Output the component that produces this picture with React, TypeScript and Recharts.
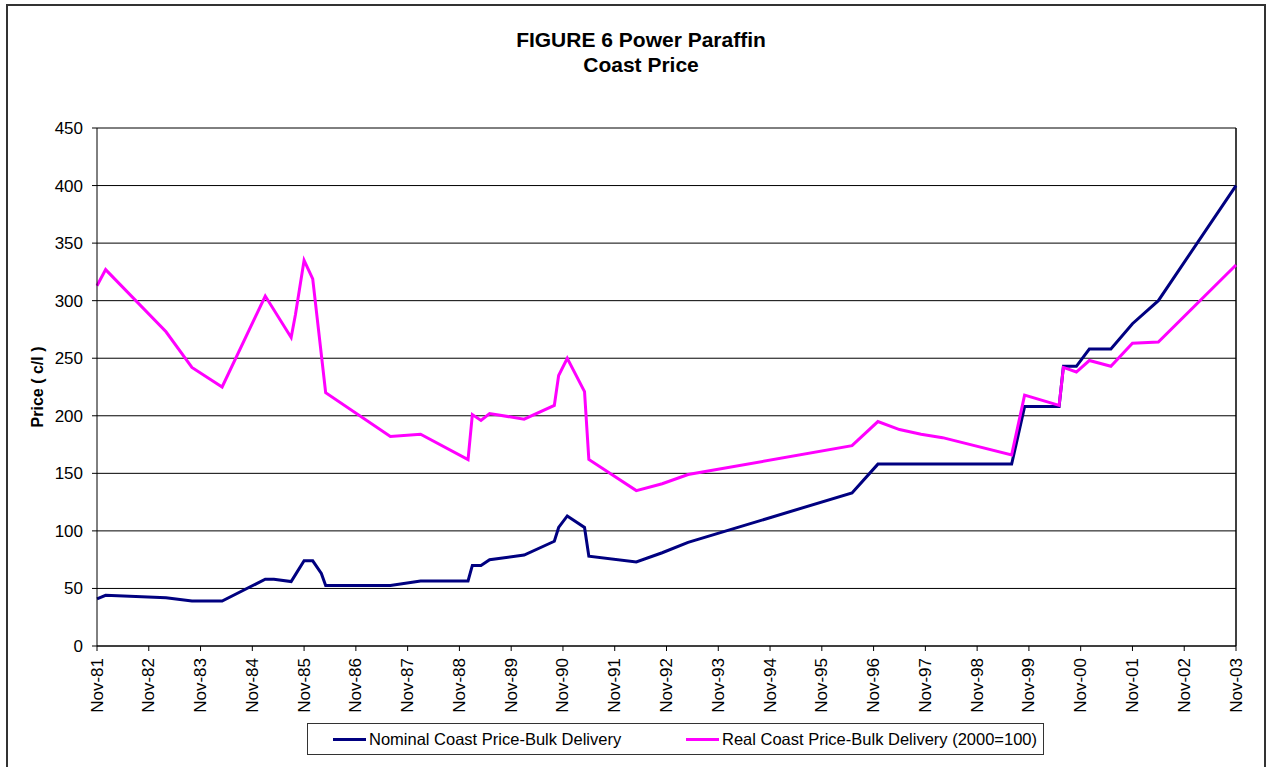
import React from 'react';
import {
  LineChart,
  Line,
  XAxis,
  YAxis,
  CartesianGrid,
  ReferenceLine,
} from 'recharts';

// months counted from Nov-81
const months = [
  0, 2, 16, 22, 29, 39, 41, 45, 46, 48, 50, 52, 53,
  68, 75, 86, 87, 89, 91, 99, 106, 107, 109, 113, 114,
  125, 131, 137, 175, 181, 186, 191, 196, 212, 215,
  223, 224, 227, 230, 235, 240, 246, 264,
];

// Nominal Coast Price-Bulk Delivery (c/l)
const nominal = [
  41, 44, 42, 39, 39, 58, 58, 56, 62, 74, 74, 63, 52.5,
  52.5, 56.5, 56.5, 70, 70, 75, 79, 91, 103, 113, 103, 78,
  73, 81, 90, 133, 158, 158, 158, 158, 158, 208,
  208, 243, 243, 258, 258, 280, 300, 400,
];

// Real Coast Price-Bulk Delivery (2000=100)
const real: (number | null)[] = [
  313, 327, 273, 242, 225, 304, null, 268, 288, 335, 319, null, 220,
  182, 184, 162, 201, 196, 202, 197, 209, 235, 250, 221, 162,
  135, 141, 149, 174, 195, 188, 184, 181, 166, 218,
  209, 242, 238, 248, 243, 263, 264, 331,
];

const xTickLabels = [
  'Nov-81', 'Nov-82', 'Nov-83', 'Nov-84', 'Nov-85', 'Nov-86', 'Nov-87', 'Nov-88',
  'Nov-89', 'Nov-90', 'Nov-91', 'Nov-92', 'Nov-93', 'Nov-94', 'Nov-95', 'Nov-96',
  'Nov-97', 'Nov-98', 'Nov-99', 'Nov-00', 'Nov-01', 'Nov-02', 'Nov-03',
];

const yTicks = [0, 50, 100, 150, 200, 250, 300, 350, 400, 450];

const NAVY = '#000080';
const PINK = '#FF00FF';
const FONT = 'Arial, "Liberation Sans", sans-serif';

const data = months.map((m, i) => ({ m, nominal: nominal[i], real: real[i] }));
const xTicks = xTickLabels.map((_, i) => i * 12);

function XTick(props: any) {
  const { x, y, payload } = props;
  const label = xTickLabels[Math.round(payload.value / 12)] ?? '';
  return (
    <text
      x={x}
      y={y}
      transform={`rotate(-90, ${x}, ${y})`}
      textAnchor="end"
      dominantBaseline="central"
      fontSize={17}
      fontFamily={FONT}
      fill="#000"
    >
      {label}
    </text>
  );
}

function LegendItem({ color, text }: { color: string; text: string }) {
  return (
    <div style={{ display: 'flex', alignItems: 'center', whiteSpace: 'nowrap' }}>
      <div style={{ width: 33, height: 3, background: color, marginRight: 3 }} />
      <span>{text}</span>
    </div>
  );
}

export default function App() {
  return (
    <div
      style={{
        position: 'absolute',
        left: 0,
        top: 0,
        width: 1266,
        height: 767,
        overflow: 'hidden',
        background: '#fff',
        fontFamily: FONT,
      }}
    >
      <div
        style={{
          position: 'absolute',
          left: 6,
          top: 4,
          width: 1256,
          height: 800,
          border: '2px solid #333',
        }}
      />
      <div
        style={{
          position: 'absolute',
          left: 0,
          width: 1282,
          top: 27,
          textAlign: 'center',
          fontWeight: 'bold',
          fontSize: 21,
          lineHeight: '25px',
        }}
      >
        <div>FIGURE 6 Power Paraffin</div>
        <div>Coast Price</div>
      </div>

      <div style={{ position: 'absolute', left: 0, top: 0 }}>
        <LineChart
          width={1266}
          height={767}
          data={data}
          margin={{ top: 128, right: 30, left: 37, bottom: 41 }}
        >
          <CartesianGrid horizontal vertical={false} stroke="#000" strokeWidth={1} />
          <XAxis
            dataKey="m"
            type="number"
            domain={[0, 264]}
            ticks={xTicks}
            interval={0}
            height={80}
            tickSize={5}
            tickMargin={7}
            tick={<XTick />}
            axisLine={{ stroke: '#000' }}
            tickLine={{ stroke: '#000' }}
          />
          <YAxis
            type="number"
            domain={[0, 450]}
            ticks={yTicks}
            interval={0}
            width={60}
            tickSize={5}
            tickMargin={9}
            tick={{ fill: '#000', fontSize: 17, fontFamily: FONT }}
            axisLine={{ stroke: '#000' }}
            tickLine={{ stroke: '#000' }}
            label={{
              value: 'Price ( c/l )',
              angle: -90,
              position: 'insideLeft',
              offset: 0,
              style: {
                textAnchor: 'middle',
                fontWeight: 'bold',
                fontSize: 16,
                fontFamily: FONT,
                fill: '#000',
              },
            }}
          />
          <ReferenceLine x={264} stroke="#000" strokeWidth={1.5} />
          <Line
            type="linear"
            dataKey="nominal"
            stroke={NAVY}
            strokeWidth={3}
            dot={false}
            connectNulls
            isAnimationActive={false}
          />
          <Line
            type="linear"
            dataKey="real"
            stroke={PINK}
            strokeWidth={3}
            dot={false}
            connectNulls
            isAnimationActive={false}
          />
        </LineChart>
      </div>

      <div
        style={{
          position: 'absolute',
          left: 307,
          top: 723,
          width: 735,
          height: 30,
          border: '1px solid #333',
          fontSize: 16.5,
        }}
      >
        <div style={{ position: 'absolute', left: 25, top: 6 }}>
          <LegendItem color={NAVY} text="Nominal Coast Price-Bulk Delivery" />
        </div>
        <div style={{ position: 'absolute', left: 378, top: 6 }}>
          <LegendItem color={PINK} text="Real Coast Price-Bulk Delivery (2000=100)" />
        </div>
      </div>
    </div>
  );
}
